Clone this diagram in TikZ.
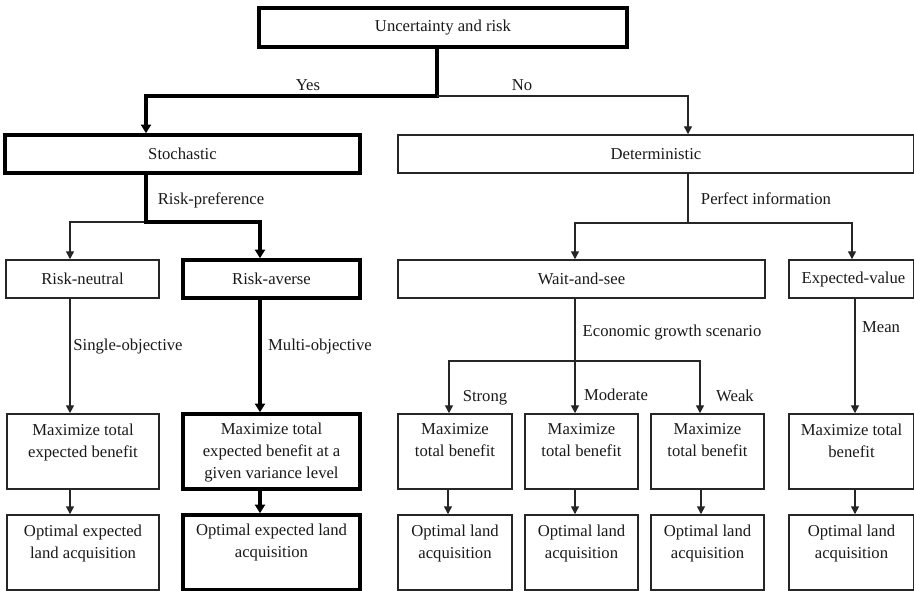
\documentclass[tikz,border=0pt]{standalone}
\usepackage{fontspec}
\setmainfont{Liberation Serif}
\usetikzlibrary{arrows.meta,fit}
\begin{document}
\begin{tikzpicture}[x=0.75pt,y=-0.75pt,
  every node/.style={font=\fontsize{12.5}{16.5}\selectfont, text=black!90},
  box/.style={draw=black!85, line width=1.1pt, inner sep=0pt},
  tbox/.style={box, line width=2.6pt, draw=black},
  ln/.style={draw=black!85, line width=1.1pt},
  tln/.style={draw=black, line width=2.6pt},
  arr/.style={-{Triangle[width=6pt,length=6pt]}},
  tarr/.style={-{Triangle[width=7.5pt,length=6.5pt]}},
  lbl/.style={inner sep=0pt, anchor=base},
  btxt/.style={inner sep=0pt, anchor=north, align=center},
]
\useasboundingbox (0,0) rectangle (914,591);

% boxes
\node[tbox, fit={(259,8) (627,47)}] (top) {};
\node[tbox, fit={(5,135) (360,173)}] (sto) {};
\node[box, fit={(398,135) (914,173)}] (det) {};
\node[box, fit={(6,260) (159,298)}] (rn) {};
\node[tbox, fit={(183,260) (360,298)}] (ra) {};
\node[box, fit={(398,260) (765,298)}] (ws) {};
\node[box, fit={(789,260) (914,298)}] (ev) {};

\node[box, fit={(7,414) (159,489)}] (m1) {};
\node[tbox, fit={(183,414) (360,489)}] (m2) {};
\node[box, fit={(398,414) (512,489)}] (ms) {};
\node[box, fit={(525,414) (638,489)}] (mm) {};
\node[box, fit={(651,414) (764,489)}] (mw) {};
\node[box, fit={(789,414) (914,489)}] (me) {};

\node[box, fit={(7,515) (159,590)}] (o1) {};
\node[tbox, fit={(183,515) (360,590)}] (o2) {};
\node[box, fit={(398,515) (512,590)}] (os) {};
\node[box, fit={(525,515) (638,590)}] (om) {};
\node[box, fit={(651,515) (764,590)}] (ow) {};
\node[box, fit={(789,515) (914,590)}] (oe) {};

% single-line box texts
\node[inner sep=0pt] (topt) at (top.center) {Uncertainty and risk};
\node[inner sep=0pt] (stot) at (sto.center) {Stochastic};
\node[inner sep=0pt] (dett) at (det.center) {Deterministic};
\node[inner sep=0pt] (rnt) at (rn.center) {Risk-neutral};
\node[inner sep=0pt] (rat) at (ra.center) {Risk-averse};
\node[inner sep=0pt] (wst) at (ws.center) {Wait-and-see};
\node[inner sep=0pt] (evt) at ([xshift=1.5pt]ev.center) {Expected-value};

% multi-line box texts
\node[btxt] (m1t) at ([yshift=-7.5pt]m1.north) {Maximize total\\expected benefit};
\node[btxt] (m2t) at ([yshift=-7.5pt]m2.north) {Maximize total\\expected benefit at a\\given variance level};
\node[btxt] (mst) at ([yshift=-7.5pt]ms.north) {Maximize\\total benefit};
\node[btxt] (mmt) at ([yshift=-7.5pt]mm.north) {Maximize\\total benefit};
\node[btxt] (mwt) at ([yshift=-7.5pt]mw.north) {Maximize\\total benefit};
\node[btxt] (met) at ([yshift=-7.5pt]me.north) {Maximize total\\benefit};

\node[btxt] (o1t) at ([yshift=-7.5pt]o1.north) {Optimal expected\\land acquisition};
\node[btxt] (o2t) at ([yshift=-7.5pt]o2.north) {Optimal expected land\\acquisition};
\node[btxt] (ost) at ([yshift=-7.5pt]os.north) {Optimal land\\acquisition};
\node[btxt] (omt) at ([yshift=-7.5pt]om.north) {Optimal land\\acquisition};
\node[btxt] (owt) at ([yshift=-7.5pt]ow.north) {Optimal land\\acquisition};
\node[btxt] (oet) at ([yshift=-7.5pt]oe.north) {Optimal land\\acquisition};

% coordinates
\coordinate (j0) at (437,96);
\coordinate (xsto) at (146,0);
\coordinate (xdet) at (688,0);
\coordinate (j1) at (146,222);
\coordinate (xrn) at (70,0);
\coordinate (xra) at (260,0);
\coordinate (j2) at (688,223);
\coordinate (xws) at (575,0);
\coordinate (xev) at (852,0);
\coordinate (xev2) at (855,0);
\coordinate (j3l) at (449,361);
\coordinate (j3r) at (700,361);
\coordinate (xs) at (448,0);
\coordinate (xw) at (701,0);

% connectors
\draw[tln,tarr] (top.south -| j0) -- (j0) -| (sto.north -| xsto);
\draw[ln,arr] (j0) -| (det.north -| xdet);

\draw[ln,arr] (j1) -| (rn.north -| xrn);
\draw[tln,tarr] (sto.south -| j1) -- (j1) -| (ra.north -| xra);

\draw[ln,arr] (det.south -| j2) -- (j2) -| (ws.north -| xws);
\draw[ln,arr] (j2) -| (ev.north -| xev);

\draw[ln,arr] (rn.south -| xrn) -- (m1.north -| xrn);
\draw[tln,tarr] (ra.south -| xra) -- (m2.north -| xra);
\draw[ln,arr] (ws.south -| xws) -- (mm.north -| xws);
\draw[ln,{Triangle[width=6pt,length=6pt]}-{Triangle[width=6pt,length=6pt]}] (ms.north -| j3l) -- (j3l) -- (j3r) -- (mw.north -| j3r);
\draw[ln,arr] (ev.south -| xev2) -- (me.north -| xev2);

\draw[ln,arr] (m1.south -| xrn) -- (o1.north -| xrn);
\draw[tln,tarr] (m2.south -| xra) -- (o2.north -| xra);
\draw[ln,arr] (ms.south -| xs) -- (os.north -| xs);
\draw[ln,arr] (mm.south -| xws) -- (om.north -| xws);
\draw[ln,arr] (mw.south -| xw) -- (ow.north -| xw);
\draw[ln,arr] (me.south -| xev2) -- (oe.north -| xev2);

% labels
\node[lbl] (yes) at (308,91) {Yes};
\node[lbl] (no) at (522,91) {No};
\node[lbl] (rp) at (211,205) {Risk-preference};
\node[lbl] (pi) at (766,205) {Perfect information};
\node[lbl] (so) at (128,351) {Single-objective};
\node[lbl] (mo) at (320,351) {Multi-objective};
\node[lbl] (eg) at (672,337) {Economic growth scenario};
\node[lbl] (mean) at (881,333) {Mean};
\node[lbl] (st) at (485,402) {Strong};
\node[lbl] (mod) at (616,401) {Moderate};
\node[lbl] (wk) at (735,402) {Weak};
\end{tikzpicture}
\end{document}
